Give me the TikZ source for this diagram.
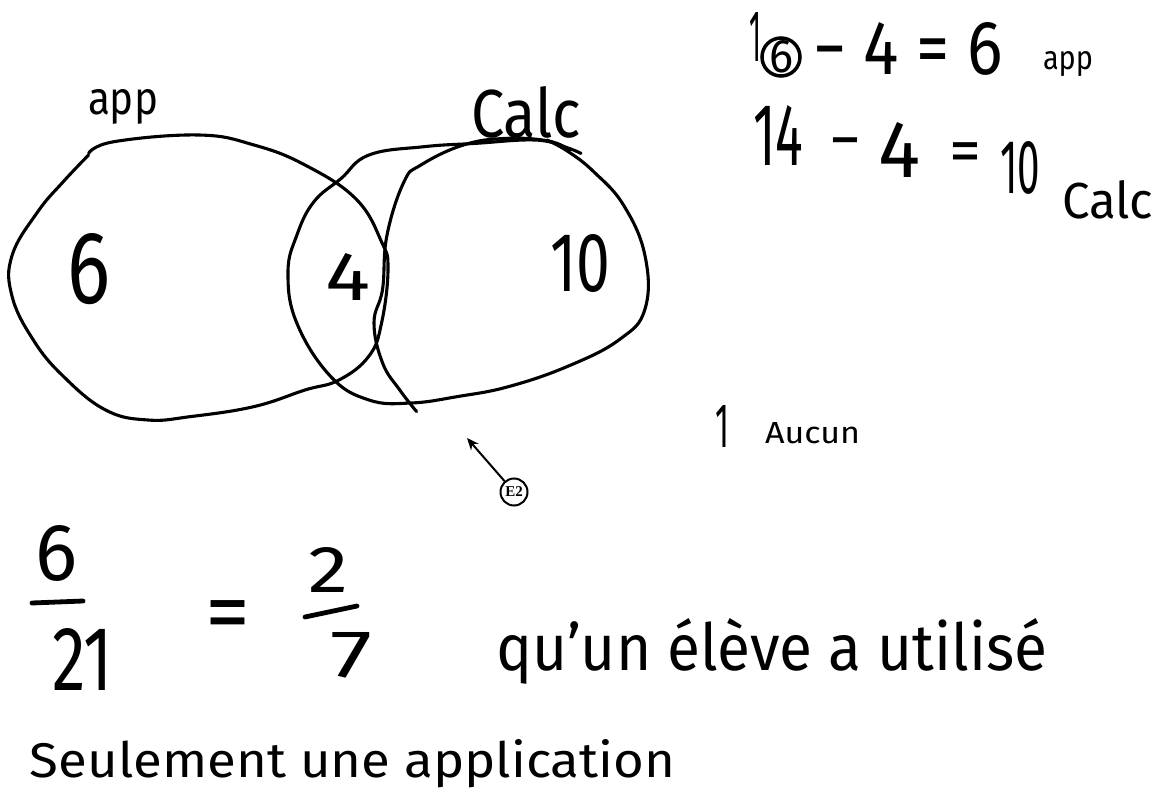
\documentclass[tikz,border=0pt]{standalone}
\usepackage{fontspec}
\setmainfont{Fira Sans}
\newfontfamily\markfont{Liberation Serif}
\usepackage{graphicx}
\usetikzlibrary{arrows.meta}
\newcommand{\hwt}[3]{\resizebox{#1pt}{#2pt}{#3}}
\tikzset{
  venn/.style={line width=3.1pt, line cap=round, line join=round, black},
  hw/.style={anchor=base west, inner sep=0pt, outer sep=0pt, black},
  sym/.style={inner sep=0pt, outer sep=0pt, black, font=\fontsize{64}{64}\selectfont},
  bar/.style={line width=4.8pt, line cap=round, black},
  marker/.style={circle, draw, line width=2pt, minimum size=27pt, inner sep=0pt, font=\markfont\bfseries\fontsize{15}{15}\selectfont},
}
\begin{document}
\begin{tikzpicture}[x=1pt,y=-1pt]
\fill[white] (0,0) rectangle (1157,792);
\useasboundingbox (0,0) rectangle (1157,792);

% App circle
\draw[venn] plot[smooth, tension=0.7] coordinates {
 (88.6,153.4) (114,141.7) (199,135) (254,145) (305,165) (356,199) (381.6,242)
 (388,269) (381.6,322.8) (369,356) (339,380) (305,390) (254,406.6) (190.5,416.6)
 (148,420) (105.6,410) (63,376) (33,339.5) (12,296) (12,255.7) (37.6,212) (63,182) (88.6,155)};
% Calc outer shape
\draw[venn] plot[smooth, tension=0.7] coordinates {
 (581,153.4) (564,146.7) (534.5,140) (475,143.4) (424,146.7) (369,155) (341,178.6)
 (313.7,202) (296.7,235.6) (288,272.5) (296.7,322.8) (330.6,376.4) (369,400) (411,403)
 (458,396.5) (509,386.5) (568.5,366) (619.5,339.5) (645,309) (645,255.7) (623.7,205.4)
 (594,172) (568.5,151.8) (547,140)};
% Calc inner arc
\draw[venn] plot[smooth, tension=0.7] coordinates {
 (416.6,411.6) (399.6,389.8) (382.6,363) (374,322.8) (382.6,289) (386.9,235.6)
 (403.9,182) (420.9,165) (463.4,145) (505.9,138.4) (548.4,141) (569.6,150)};

% Venn labels
\node[hw] (lapp) at (88,114) {\hwt{70}{25}{app}};
\node[hw] (lcalc) at (471,137) {\hwt{110}{51}{Calc}};
\node[hw] (n6) at (67,303) {\hwt{43}{70}{6}};
\node[hw] (n4) at (325,300) {\hwt{45}{47}{4}};
\node[hw] (n10) at (550,291) {\hwt{60}{57}{10}};

% Equation line 1
\node[hw] (eq1a) at (749,62) {\hwt{12}{49}{1}};
\node[hw] (eq1b) at (769,73) {\hwt{24}{32}{6}};
\draw[line width=3.5pt] (781,57) circle[radius=19pt];
\node[hw] (eq1c) at (813,75) {\hwt{190}{52}{− 4 = 6}};
\node[hw] (eq1app) at (1043,70) {\hwt{50}{18}{app}};

% Equation line 2
\node[hw] (eq2a) at (753,165) {\hwt{50}{60}{14}};
\node[sym] (eq2b) at (845,150) {−};
\node[hw] (eq2c) at (878,177) {\hwt{42}{55}{4}};
\node[sym] (eq2d) at (965,158) {=};
\node[hw] (eq2e) at (1000,193) {\hwt{40}{52}{10}};
\node[hw] (eq2calc) at (1062,218) {\hwt{91}{38}{Calc}};

% Aucun
\node[hw] (one) at (715,447) {\hwt{14}{42}{1}};
\node[hw] (aucun) at (765,443) {\hwt{95}{21}{Aucun}};

% E2 marker
\node[marker] (e2) at (514,492) {E2};
\coordinate (e2tip) at (467,438);
\draw[line width=2pt, -{Stealth[length=12pt,width=10pt]}] (e2) -- (e2tip);

% Fractions
\node[hw] (f6) at (35,580) {\hwt{42}{55}{6}};
\coordinate (fb1a) at (32,603);
\coordinate (fb1b) at (83,601);
\draw[bar] (fb1a) -- (fb1b);
\node[hw] (f21) at (52,690) {\hwt{61}{62}{21}};
\node[inner sep=0pt, font=\fontsize{90}{90}\selectfont] (feq) at (228,622) {=};
\node[hw] (f2) at (308,592) {\hwt{40}{45}{2}};
\coordinate (fb2a) at (305,617);
\coordinate (fb2b) at (357,606);
\draw[bar] (fb2a) -- (fb2b);
\node[hw] (f7) at (330,677) {\hwt{42}{45}{7}};

% Sentences
\node[hw] (s1) at (496,670) {\hwt{551}{52}{qu'un élève a utilisé}};
\node[hw] (s2) at (30,777) {\hwt{645}{38}{Seulement une application}};
\end{tikzpicture}
\end{document}
